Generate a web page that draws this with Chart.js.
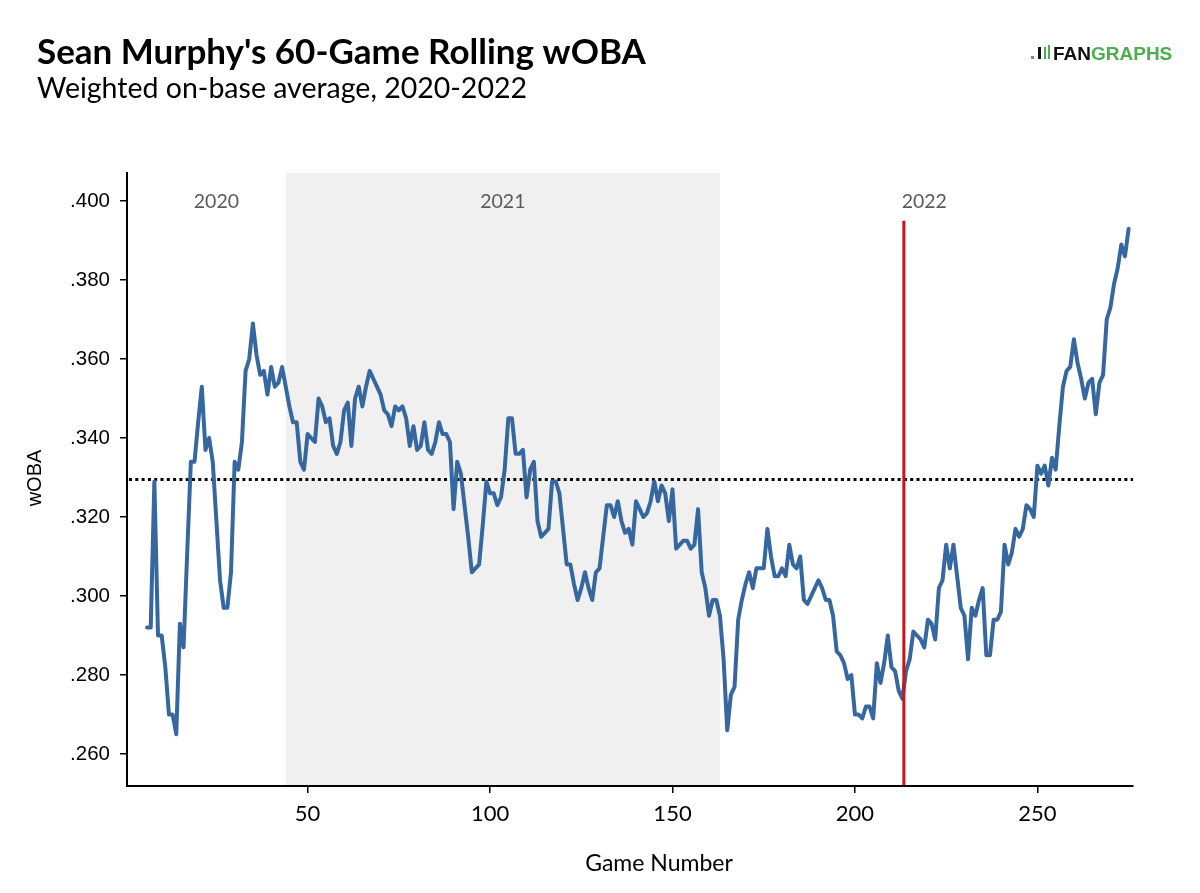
<!DOCTYPE html>
<html>
<head>
<meta charset="utf-8">
<script src="https://cdn.jsdelivr.net/npm/chart.js@4.4.1/dist/chart.umd.min.js"></script>
<style>
    html, body { margin: 0; padding: 0; background: #fff; }
    #wrap { width: 1200px; height: 893px; }
</style>
</head>
<body>
<div id="wrap"><canvas id="chart" width="1200" height="893"></canvas></div>
<script>
// 60-game rolling wOBA, one value per game starting at firstGame
const firstGame = 6;
const woba = [
    0.292, 0.292, 0.329, 0.290, 0.290, 0.282, 0.270, 0.270, 0.265, 0.293,
    0.287, 0.311, 0.334, 0.334, 0.344, 0.353, 0.337, 0.340, 0.334, 0.319,
    0.304, 0.297, 0.297, 0.306, 0.334, 0.332, 0.339, 0.357, 0.360, 0.369,
    0.361, 0.356, 0.357, 0.351, 0.358, 0.353, 0.354, 0.358, 0.353, 0.348,
    0.344, 0.344, 0.334, 0.332, 0.341, 0.340, 0.339, 0.350, 0.348, 0.344,
    0.345, 0.338, 0.336, 0.339, 0.347, 0.349, 0.338, 0.350, 0.353, 0.348,
    0.353, 0.357, 0.355, 0.353, 0.351, 0.347, 0.346, 0.343, 0.348, 0.347,
    0.348, 0.345, 0.338, 0.343, 0.337, 0.338, 0.344, 0.337, 0.336, 0.339,
    0.344, 0.341, 0.341, 0.339, 0.322, 0.334, 0.331, 0.323, 0.315, 0.306,
    0.307, 0.308, 0.318, 0.329, 0.326, 0.326, 0.323, 0.325, 0.332, 0.345,
    0.345, 0.336, 0.336, 0.337, 0.325, 0.332, 0.334, 0.319, 0.315, 0.316,
    0.317, 0.329, 0.329, 0.326, 0.317, 0.308, 0.308, 0.303, 0.299, 0.302,
    0.306, 0.302, 0.299, 0.306, 0.307, 0.315, 0.323, 0.323, 0.320, 0.324,
    0.319, 0.316, 0.317, 0.313, 0.324, 0.322, 0.320, 0.321, 0.324, 0.329,
    0.324, 0.328, 0.326, 0.319, 0.327, 0.312, 0.313, 0.314, 0.314, 0.312,
    0.313, 0.322, 0.306, 0.302, 0.295, 0.299, 0.299, 0.295, 0.284, 0.266,
    0.275, 0.277, 0.294, 0.299, 0.303, 0.306, 0.302, 0.307, 0.307, 0.307,
    0.317, 0.310, 0.305, 0.305, 0.307, 0.305, 0.313, 0.308, 0.307, 0.310,
    0.299, 0.298, 0.300, 0.302, 0.304, 0.302, 0.299, 0.299, 0.295, 0.286,
    0.285, 0.283, 0.279, 0.280, 0.270, 0.270, 0.269, 0.272, 0.272, 0.269,
    0.283, 0.278, 0.283, 0.290, 0.282, 0.281, 0.276, 0.274, 0.281, 0.284,
    0.291, 0.290, 0.289, 0.287, 0.294, 0.293, 0.289, 0.302, 0.304, 0.313,
    0.307, 0.313, 0.305, 0.297, 0.295, 0.284, 0.297, 0.295, 0.299, 0.302,
    0.285, 0.285, 0.294, 0.294, 0.296, 0.313, 0.308, 0.311, 0.317, 0.315,
    0.317, 0.323, 0.322, 0.320, 0.333, 0.331, 0.333, 0.328, 0.335, 0.332,
    0.343, 0.353, 0.357, 0.358, 0.365, 0.359, 0.355, 0.350, 0.354, 0.355,
    0.346, 0.354, 0.356, 0.370, 0.373, 0.379, 0.383, 0.389, 0.386, 0.393,
];

const xTicks = [50, 100, 150, 200, 250];
const yTicks = [0.26, 0.28, 0.30, 0.32, 0.34, 0.36, 0.38, 0.40];

const seasons = ['2020', '2021', '2022'];
const seasonLabelGames = [25, 103.5, 219];
const season2021 = [44, 163];
const season2022Start = 213.4;
const leagueAvg = 0.3295;

const lineBlue = '#36679e';
const red = '#c4161c';
const shade = '#f0f0f0';

const points = woba.map((v, i) => ({ x: firstGame + i, y: v }));

const overlays = {
    id: 'overlays',
    beforeDraw(chart) {
        const { ctx, chartArea: a, scales: { x } } = chart;
        const x0 = x.getPixelForValue(season2021[0]);
        const x1 = x.getPixelForValue(season2021[1]);
        ctx.save();
        ctx.fillStyle = shade;
        ctx.fillRect(x0, a.top, x1 - x0, a.bottom - a.top);
        ctx.restore();
    },
    beforeDatasetsDraw(chart) {
        const { ctx, chartArea: a, scales: { x, y } } = chart;
        ctx.save();
        // season labels
        ctx.font = '19.5px Lato';
        ctx.fillStyle = '#5a5a5a';
        ctx.textAlign = 'center';
        ctx.textBaseline = 'middle';
        seasons.forEach((s, i) => {
            ctx.fillText(s, x.getPixelForValue(seasonLabelGames[i]), 202);
        });
        // league average dotted line
        const yy = y.getPixelForValue(leagueAvg);
        ctx.strokeStyle = '#000';
        ctx.lineWidth = 3;
        ctx.setLineDash([3, 3.3]);
        ctx.beginPath();
        ctx.moveTo(a.left + 2, yy);
        ctx.lineTo(a.right, yy);
        ctx.stroke();
        ctx.restore();
    },
    afterDatasetsDraw(chart) {
        const { ctx, chartArea: a, scales: { x, y } } = chart;
        const xx = x.getPixelForValue(season2022Start);
        ctx.save();
        ctx.strokeStyle = red;
        ctx.lineWidth = 3;
        ctx.beginPath();
        ctx.moveTo(xx, y.getPixelForValue(0.395));
        ctx.lineTo(xx, a.bottom - 1);
        ctx.stroke();
        ctx.restore();
    },
    afterDraw(chart) {
        const { ctx } = chart;
        ctx.save();
        ctx.fillStyle = '#000';
        ctx.textAlign = 'left';
        ctx.textBaseline = 'alphabetic';
        ctx.font = 'bold 35px Lato';
        ctx.fillText("Sean Murphy's 60-Game Rolling wOBA", 37, 64);
        ctx.font = '28.5px Lato';
        ctx.fillText('Weighted on-base average, 2020-2022', 37, 98);

        // axis titles
        ctx.font = '23px Lato';
        ctx.textAlign = 'center';
        ctx.textBaseline = 'middle';
        ctx.fillText('Game Number', 659, 864);
        ctx.save();
        ctx.translate(35, 478);
        ctx.rotate(-Math.PI / 2);
        ctx.font = '20px "Liberation Sans"';
        ctx.fillText('wOBA', 0, 0);
        ctx.restore();

        // logo
        ctx.fillStyle = '#4cae4c';
        ctx.fillRect(1031, 56, 3, 3);
        ctx.fillRect(1044, 47, 2, 12);
        ctx.fillRect(1048, 45, 2, 14);
        ctx.fillStyle = '#111';
        ctx.fillRect(1038, 47, 3, 12);
        ctx.textAlign = 'left';
        ctx.textBaseline = 'alphabetic';
        ctx.font = 'bold 19px "Liberation Sans"';
        ctx.fillStyle = '#111';
        ctx.fillText('FAN', 1053, 60);
        const w = ctx.measureText('FAN').width;
        ctx.fillStyle = '#4cae4c';
        ctx.fillText('GRAPHS', 1053 + w, 60);
        ctx.restore();
    },
};

new Chart(document.getElementById('chart'), {
    type: 'line',
    data: {
        datasets: [
            {
                data: points,
                borderColor: lineBlue,
                borderWidth: 4,
                pointRadius: 0,
                tension: 0,
                borderJoinStyle: 'round',
                borderCapStyle: 'round',
            },
        ],
    },
    options: {
        responsive: false,
        animation: false,
        layout: { padding: { top: 173, right: 67, left: 0, bottom: 0 } },
        plugins: {
            legend: { display: false },
            tooltip: { enabled: false },
        },
        scales: {
            x: {
                type: 'linear',
                min: 0.5,
                max: 276.2,
                afterFit: (s) => { s.height = 107; },
                afterBuildTicks: (s) => { s.ticks = xTicks.map((v) => ({ value: v })); },
                grid: { drawOnChartArea: false, drawTicks: true, tickLength: 7, color: '#000', lineWidth: 1.5 },
                border: { display: true, color: '#000', width: 2 },
                ticks: {
                    padding: 8,
                    color: '#000',
                    font: { family: 'Lato', size: 22 },
                    maxRotation: 0,
                },
            },
            y: {
                min: 0.2519,
                max: 0.4071,
                afterFit: (s) => { s.width = 127; },
                afterBuildTicks: (s) => { s.ticks = yTicks.map((v) => ({ value: v })); },
                grid: { drawOnChartArea: false, drawTicks: true, tickLength: 7, color: '#000', lineWidth: 1.5 },
                border: { display: true, color: '#000', width: 2 },
                ticks: {
                    padding: 10,
                    color: '#000',
                    font: { family: 'Liberation Sans', size: 20.5 },
                    callback: (v) => v.toFixed(3).replace(/^0/, ''),
                },
            },
        },
    },
    plugins: [overlays],
});
</script>
</body>
</html>
